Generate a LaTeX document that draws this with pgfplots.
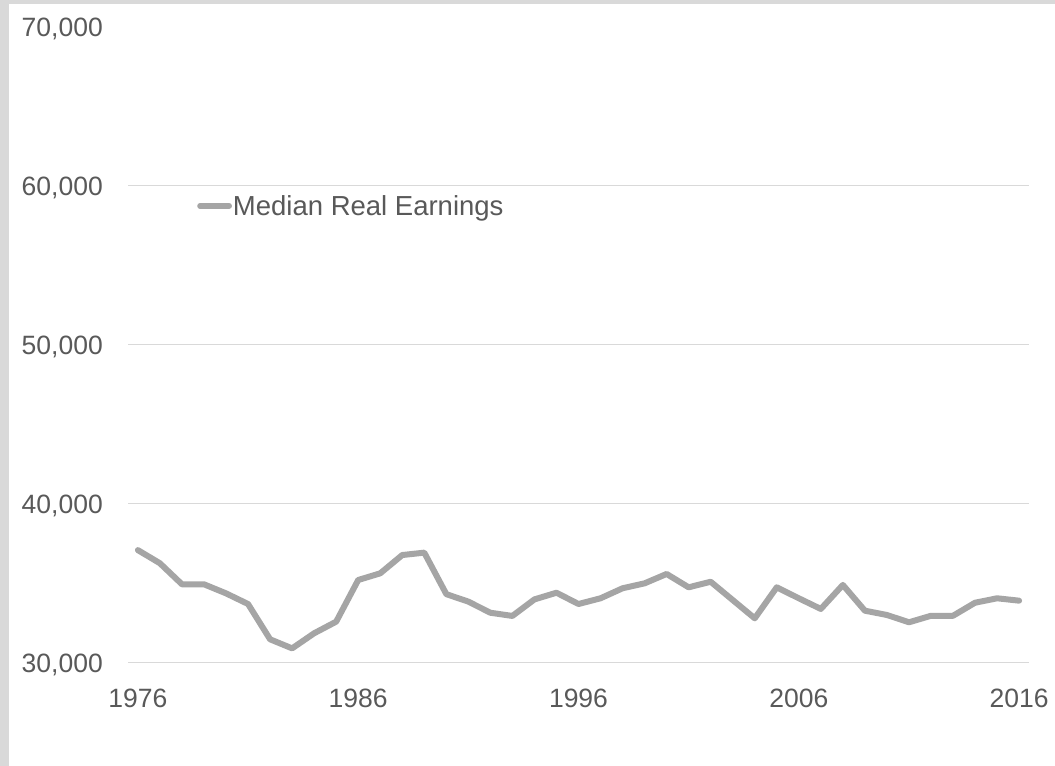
\documentclass[border=0pt]{standalone}
\usepackage{fontspec}
\setmainfont{Liberation Sans}
\usepackage{pgfplots}
\pgfplotsset{compat=1.18}
\definecolor{txtgray}{HTML}{595959}
\definecolor{linegray}{HTML}{A5A5A5}
\definecolor{gridgray}{HTML}{D9D9D9}
\definecolor{bordergray}{HTML}{D9D9D9}
\begin{document}
\begin{tikzpicture}
\fill[bordergray] (0,0) rectangle (1055bp,766bp);
\fill[white] (9bp,0) rectangle (1055bp,762bp);
\begin{axis}[
  at={(128bp,103bp)}, anchor=south west,
  scale only axis, width=901bp, height=636bp,
  xmin=1975.55, xmax=2016.45,
  ymin=30000, ymax=70000,
  xtick={1976,1986,1996,2006,2016},
  ytick={30000,40000,50000,60000},
  extra y ticks={70000},
  extra y tick style={grid=none},
  ymajorgrids,
  grid style={gridgray, line width=1bp},
  major tick length=0pt,
  axis line style={draw=none},
  scaled y ticks=false,
  clip=false,
  /pgf/number format/assume math mode=true,
  yticklabel style={/pgf/number format/fixed, /pgf/number format/precision=0, /pgf/number format/1000 sep={,}, anchor=base east, inner sep=0pt, xshift=-25bp, yshift=-9.5bp},
  xticklabel style={/pgf/number format/1000 sep={}, anchor=base, inner sep=0pt, yshift=-44bp},
  tick label style={font=\fontsize{26.5bp}{30bp}\selectfont, text=txtgray},
  legend style={at={(0.0766,0.7186)}, anchor=west, draw=none, fill=none, inner xsep=0pt, inner ysep=0pt,
    font=\fontsize{27.5bp}{31bp}\selectfont, text=txtgray, nodes={inner sep=1bp}},
  legend image code/.code={\draw[line width=5.5bp, line cap=round] (2.75bp,0bp) -- (32bp,0bp);},
]
\addplot[linegray, line width=6bp, line join=round, line cap=round] coordinates {
(1976,37100) (1977,36270) (1978,34950) (1979,34950) (1980,34380) (1981,33710)
(1982,31490) (1983,30920) (1984,31870) (1985,32600) (1986,35220) (1987,35640)
(1988,36790) (1989,36940) (1990,34330) (1991,33860) (1992,33160) (1993,32960)
(1994,34000) (1995,34420) (1996,33710) (1997,34070) (1998,34700) (1999,35010)
(2000,35600) (2001,34760) (2002,35110) (2003,33960) (2004,32810) (2005,34760)
(2006,34070) (2007,33400) (2008,34910) (2009,33290) (2010,33020) (2011,32560)
(2012,32970) (2013,32970) (2014,33790) (2015,34070) (2016,33920)
};
\addlegendentry{Median Real Earnings}
\end{axis}
\end{tikzpicture}
\end{document}
